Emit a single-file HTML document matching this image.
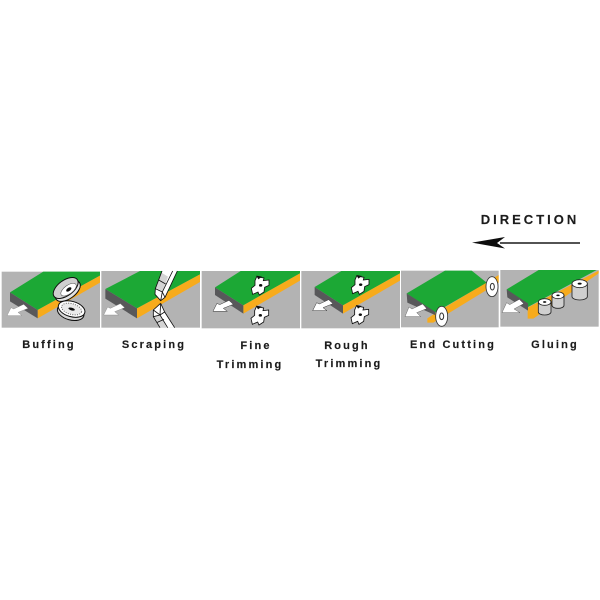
<!DOCTYPE html>
<html>
<head>
<meta charset="utf-8">
<style>
html,body{margin:0;padding:0;background:#fff;}
body{width:600px;height:600px;overflow:hidden;}
svg{display:block;}
text{font-family:"Liberation Sans",sans-serif;font-weight:bold;fill:#1c1c1c;stroke:#1c1c1c;stroke-width:.15px;font-size:11px;letter-spacing:2.15px;text-anchor:middle;}
</style>
</head>
<body>
<svg width="600" height="600" viewBox="0 0 600 600" xmlns="http://www.w3.org/2000/svg">
<defs>
<filter id="b" x="-5%" y="-5%" width="110%" height="110%"><feGaussianBlur stdDeviation="0.35"/></filter>
<g id="cut">
<polygon points="170,50 192,54 190,62 207,60 207,76 194,82 192,96 178,105 174,96 158,103 154,85 165,76 165,62" fill="#fff" stroke="#111" stroke-width="2.5"/>
<polygon points="169,47 186,50 175,58" fill="#111"/>
<ellipse cx="182" cy="76" rx="5" ry="4" fill="#111"/>
</g>
</defs>
<rect width="600" height="600" fill="#fff"/>
<g filter="url(#b)">

<!-- Buffing + Scraping -->
<g transform="translate(0,260) scale(.33333)">
<rect x="5" y="35" width="295" height="168" fill="#b3b3b3"/>
<rect x="304" y="33" width="296" height="170" fill="#b3b3b3"/>
<!-- panel 1 board -->
<polygon points="30,97 130,35 300,35 300,47 113,150" fill="#1ea835"/>
<polygon points="113,150 300,47 300,68 113,175" fill="#f7ab1d"/>
<polygon points="30,97 113,150 113,175 30,124" fill="#58585a"/>
<polygon points="21,167 33,143 41,147 71,133 84,145 54,157 66,167" fill="#fff" stroke="#777" stroke-width="1"/>
<!-- buffing wheels -->
<g transform="translate(200,88) rotate(-36)">
<ellipse cx="0" cy="6" rx="43" ry="23" fill="#e4e4e4" stroke="#111" stroke-width="3"/>
<ellipse cx="0" cy="-5" rx="43" ry="23" fill="#cfcfcf" stroke="#111" stroke-width="3"/>
<ellipse cx="4" cy="4" rx="27" ry="13" fill="#fff" stroke="#444" stroke-width="1.5"/>
<ellipse cx="5" cy="4" rx="9" ry="5" fill="#111"/>
</g>
<g transform="translate(214,150) rotate(16)">
<ellipse cx="0" cy="7" rx="41" ry="23" fill="#d8d8d8" stroke="#111" stroke-width="3"/>
<ellipse cx="0" cy="-3" rx="41" ry="23" fill="#fff" stroke="#111" stroke-width="3"/>
<ellipse cx="0" cy="-3" rx="31" ry="16" fill="#eaeaea" stroke="#666" stroke-width="3" stroke-dasharray="3 4"/>
<ellipse cx="0" cy="-3" rx="10" ry="4" fill="#111"/>
</g>
<!-- panel 2 board -->
<polygon points="316,87 420,33 600,33 600,43 411,145" fill="#1ea835"/>
<polygon points="411,145 600,43 600,66 411,175" fill="#f7ab1d"/>
<polygon points="316,87 411,145 411,175 316,116" fill="#58585a"/>
<polygon points="311,165 323,141 331,145 361,131 374,143 344,155 356,165" fill="#fff" stroke="#777" stroke-width="1"/>
<!-- scrapers -->
<polygon points="486,33 532,33 495,112 482,122 465,103 466,86" fill="#fff"/>
<polygon points="484,38 504,50 488,95 468,84" fill="#d4d4d4"/>
<path d="M486,33 L466,86 L465,103 L482,122 L495,112 L532,33 M466,86 L487,96 L482,122 M487,96 L495,112 M476,60 L497,72 M518,33 L487,96" fill="none" stroke="#111" stroke-width="2.5"/>
<polygon points="482,130 460,150 460,170 480,203 524,203 494,156" fill="#fff"/>
<polygon points="460,172 480,164 500,203 480,203" fill="#d4d4d4"/>
<path d="M482,130 L460,150 L460,170 L480,203 M524,203 L494,156 L482,130 M460,150 L480,165 L482,130 M460,170 L480,165 L494,156 M470,188 L492,178 M480,165 L503,203" fill="none" stroke="#111" stroke-width="2.5"/>
</g>

<!-- Fine + Rough -->
<g transform="translate(200,260) scale(.33333)">
<rect x="5" y="33" width="295" height="172" fill="#b3b3b3"/>
<rect x="304" y="33" width="296" height="172" fill="#b3b3b3"/>
<polygon points="45,82 122,33 300,33 300,40 130,136" fill="#1ea835"/>
<polygon points="130,136 300,40 300,62 130,161" fill="#f7ab1d"/>
<polygon points="45,82 130,136 130,161 45,105" fill="#58585a"/>
<polygon points="39,154 51,130 59,134 87,121 100,133 70,145 82,154" fill="#fff" stroke="#333" stroke-width="1.5"/>
<polygon points="344,81 424,33 600,33 600,40 429,136" fill="#1ea835"/>
<polygon points="429,136 600,40 600,62 429,161" fill="#f7ab1d"/>
<polygon points="344,81 429,136 429,161 344,105" fill="#58585a"/>
<polygon points="338,152 350,128 358,132 386,119 399,131 369,143 381,152" fill="#fff" stroke="#333" stroke-width="1.5"/>
<!-- cutters -->
<use href="#cut"/>
<use href="#cut" transform="translate(-1,90)"/>
<use href="#cut" transform="translate(300,-2)"/>
<use href="#cut" transform="translate(299,88)"/>
</g>

<!-- End Cutting + Gluing -->
<g transform="translate(400,260) scale(.33333)">
<rect x="3" y="32" width="293" height="170" fill="#b3b3b3"/>
<rect x="301" y="30" width="295" height="170" fill="#b3b3b3"/>
<!-- panel 5 -->
<polygon points="105,160 296,45 296,68 100,188 82,188 82,175" fill="#f7ab1d"/>
<polygon points="20,100 135,32 215,32 260,68 105,158" fill="#1ea835"/>
<polygon points="20,100 105,155 105,165 22,128" fill="#58585a"/>
<polygon points="15,170 27,141 36,147 68,132 80,146 50,158 62,170" fill="#fff" stroke="#333" stroke-width="1"/>
<ellipse cx="276" cy="80" rx="18" ry="30" fill="#fff" stroke="#333" stroke-width="2.5"/>
<ellipse cx="277" cy="80" rx="6" ry="10" fill="#fff" stroke="#333" stroke-width="3"/>
<ellipse cx="125" cy="169" rx="18" ry="30" fill="#fff" stroke="#333" stroke-width="2.5"/>
<ellipse cx="125" cy="169" rx="6" ry="10" fill="#fff" stroke="#333" stroke-width="3"/>
<!-- panel 6 -->
<polygon points="383,143 596,32 596,40 400,176 383,176" fill="#f7ab1d"/>
<polygon points="320,88 416,30 590,30 384,141" fill="#1ea835"/>
<polygon points="320,88 384,130 384,152 322,112" fill="#58585a"/>
<polygon points="306,158 320,128 329,134 358,118 371,131 342,147 360,158" fill="#fff" stroke="#333" stroke-width="1"/>
<g fill="#cfcfcf" stroke="#222" stroke-width="2.5">
<path d="M415,127 L415,156 A19,9 0 0 0 453,156 L453,127 Z"/>
<ellipse cx="434" cy="126" rx="19" ry="10" fill="#fff"/>
<path d="M456,106 L456,136 A18,9 0 0 0 492,136 L492,106 Z"/>
<ellipse cx="474" cy="106" rx="18" ry="10" fill="#fff"/>
<path d="M516,72 L516,110 A23,10 0 0 0 562,110 L562,72 Z"/>
<ellipse cx="539" cy="71" rx="23" ry="12" fill="#fff"/>
</g>
<ellipse cx="434" cy="126" rx="5" ry="2.5" fill="#111"/>
<ellipse cx="474" cy="106" rx="5" ry="2.5" fill="#111"/>
<ellipse cx="539" cy="71" rx="6" ry="3" fill="#111"/>
</g>

<!-- Direction arrow -->
<rect x="500" y="242.3" width="80" height="1.4" fill="#111"/>
<polygon points="472,242.6 505,237 497,243 505,248.5" fill="#111"/>
</g>

<text x="530" y="224" style="font-size:13px;letter-spacing:3px">DIRECTION</text>
<text x="49" y="348">Buffing</text>
<text x="154" y="348">Scraping</text>
<text x="256" y="349">Fine</text>
<text x="250" y="368">Trimming</text>
<text x="347" y="349">Rough</text>
<text x="349" y="367">Trimming</text>
<text x="453" y="348">End Cutting</text>
<text x="555" y="348">Gluing</text>
</svg>
</body>
</html>
